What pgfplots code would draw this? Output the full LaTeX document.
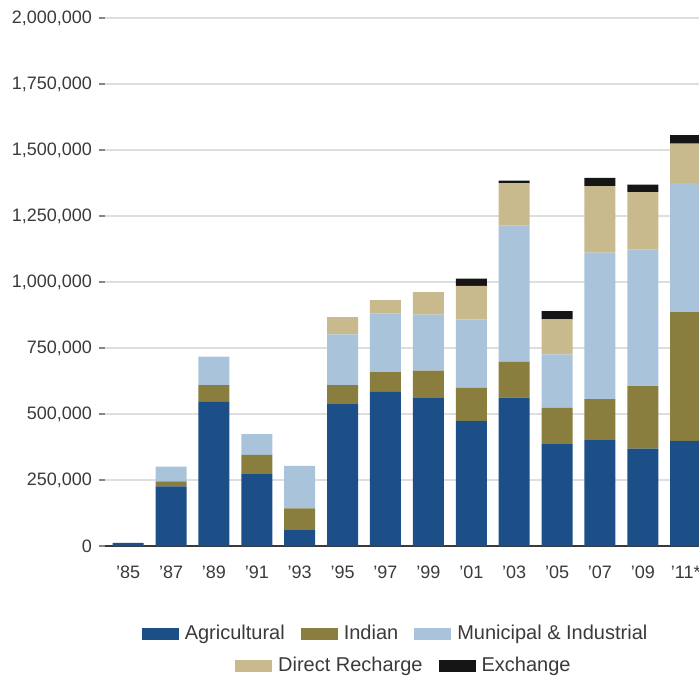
\documentclass[border=0pt]{standalone}
\usepackage{pgfplots}
\pgfplotsset{compat=1.18}
\usepackage{pgfplotstable}
\usepackage{fontspec}
\setmainfont{Liberation Sans}
\definecolor{agri}{HTML}{1C4F87}
\definecolor{indian}{HTML}{8A7E3E}
\definecolor{muni}{HTML}{A9C4DA}
\definecolor{recharge}{HTML}{C8BA8C}
\definecolor{exch}{HTML}{151515}
\definecolor{gridc}{HTML}{DEDEDE}
\definecolor{txt}{HTML}{3A3A3A}
\pgfplotstableread{
x Ag Ind MI DR Ex
0 12000 0 0 0 0
1 226000 19000 56000 0 0
2 546000 63000 108000 0 0
3 272000 73000 79000 0 0
4 60000 83000 161000 0 0
5 537000 72000 193000 65000 0
6 584000 75000 222000 50000 0
7 560000 104000 212000 86000 0
8 474000 126000 258000 127000 28000
9 562000 136000 516000 161000 9000
10 386000 137000 203000 132000 32000
11 401000 155000 555000 252000 31000
12 369000 237000 517000 217000 29000
13 398000 488000 489000 149000 32000
}\datatable
\pgfplotsset{
  swatch/.style={legend image code/.code={\fill[##1] (0pt,-3pt) rectangle (18.5pt,3pt);}},
  mylegend/.style={legend style={draw=none, fill=none, anchor=center,
    font=\fontsize{10}{12}\selectfont, text=txt,
    /tikz/every odd column/.append style={column sep=1.5pt},
    /tikz/every even column/.append style={column sep=6.5pt},
    nodes={inner sep=1.5pt}}},
}
\begin{document}
\begin{tikzpicture}
\useasboundingbox (-52.5pt,-64.5pt) rectangle (297pt,273pt);
\begin{axis}[
  at={(0,0)}, anchor=south west,
  scale only axis, width=297pt, height=264pt,
  ybar stacked, bar width=15.5pt,
  xmin=-0.54, xmax=13.31, ymin=0, ymax=2000000,
  xtick=data,
  xticklabels={’85,’87,’89,’91,’93,’95,’97,’99,’01,’03,’05,’07,’09,’11*},
  ytick={0,250000,500000,750000,1000000,1250000,1500000,1750000,2000000},
  scaled y ticks=false,
  yticklabel style={/pgf/number format/.cd, fixed, 1000 sep={,}, assume math mode=true},
  ticklabel style={font=\fontsize{9}{11}\selectfont, text=txt},
  xticklabel style={yshift=-3.5pt},
  axis lines*=left,
  y axis line style={draw=none},
  x axis line style={draw=txt, line width=1pt, -},
  ymajorgrids, grid style={gridc, line width=0.8pt},
  major x tick style={draw=none},
  major y tick style={draw=gridc!60!black, line width=0.6pt},
  major tick length=3pt, tick align=outside,
  clip=true,
  swatch, mylegend,
  legend columns=-1,
  legend style={at={(axis description cs:0.49,-0.166)}},
]
\addplot[fill=agri, draw=none] table[x=x, y=Ag] {\datatable};
\addlegendentry{Agricultural}
\addplot[fill=indian, draw=none] table[x=x, y=Ind] {\datatable};
\addlegendentry{Indian}
\addplot[fill=muni, draw=none] table[x=x, y=MI] {\datatable};
\addlegendentry{Municipal \& Industrial}
\addplot[fill=recharge, draw=none] table[x=x, y=DR] {\datatable};
\addplot[fill=exch, draw=none] table[x=x, y=Ex] {\datatable};
\end{axis}
\begin{axis}[
  at={(0,0)}, anchor=south west,
  scale only axis, width=297pt, height=264pt,
  xmin=0, xmax=1, ymin=0, ymax=1,
  hide axis,
  swatch, mylegend,
  legend columns=-1,
  legend style={at={(axis description cs:0.504,-0.2264)}},
]
\addlegendimage{fill=recharge, draw=none}
\addlegendentry{Direct Recharge}
\addlegendimage{fill=exch, draw=none}
\addlegendentry{Exchange}
\end{axis}
\end{tikzpicture}
\end{document}
